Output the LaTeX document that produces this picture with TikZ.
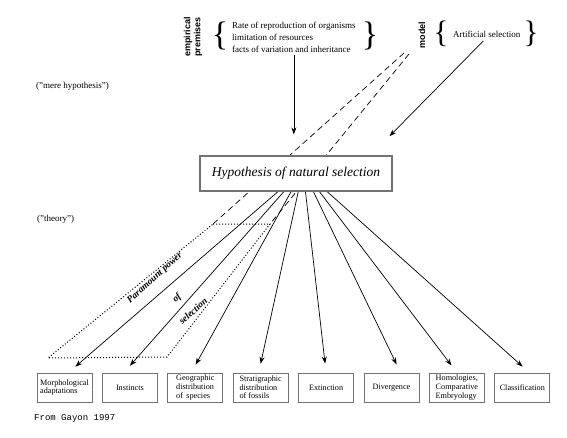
\documentclass[tikz,border=0pt]{standalone}
\usepackage{fontspec}
\setmainfont{Liberation Serif}
\setsansfont{Liberation Sans}
\setmonofont{Liberation Mono}
\usetikzlibrary{arrows.meta,positioning,calc,backgrounds}
\definecolor{boxgray}{gray}{0.45}
\tikzset{
  lbl/.style={font=\fontsize{9}{12}\selectfont, inner sep=0pt, align=left},
  vlbl/.style={font=\sffamily\bfseries\fontsize{9}{10}\selectfont, rotate=90,
               align=center, inner sep=0pt},
  brc/.style={inner sep=0pt, font=\fontsize{34}{34}\selectfont},
  hbox/.style={rectangle, draw=boxgray, line width=1.1pt, minimum width=192pt,
               minimum height=35pt, fill=white,
               font=\itshape\fontsize{13.5}{15}\selectfont},
  bbox/.style={rectangle, draw=boxgray, line width=0.9pt, minimum width=55pt,
               minimum height=29pt, inner sep=1.5pt, align=left,
               font=\fontsize{8.2}{8.6}\selectfont},
  arrow/.style={-{Stealth[length=7pt,width=5pt]}, line width=0.7pt},
  dashline/.style={dash pattern=on 6pt off 4pt, line width=0.7pt},
  dotline/.style={dotted, line width=1pt},
  pwr/.style={font=\bfseries\itshape\fontsize{9.5}{11}\selectfont, rotate=42,
              inner sep=0pt}
}

\begin{document}
\begin{tikzpicture}[x=1pt, y=-1pt, node distance=9.5pt]
  \useasboundingbox (0,0) rectangle (567,437);
  \node[vlbl] (emp) at (193,37) {empirical\\premises};
  \node[brc] (lbr) at (220,36) {\{};
  \node[lbl, anchor=west] (prem) at (232,37)
    {Rate of reproduction of organisms\\limitation of resources\\facts of variation and inheritance};
  \node[brc] (rbr) at (370,36) {\}};
  \node[vlbl] (mdl) at (422,35) {model};
  \node[brc, font=\fontsize{31}{31}\selectfont] (lbr2) at (441,34) {\{};
  \node[lbl, anchor=west] (art) at (453,34) {Artificial selection};
  \node[brc, font=\fontsize{31}{31}\selectfont] (rbr2) at (531,34) {\}};
  \node[lbl, anchor=west] (mere) at (36,86) {("mere hypothesis")};
  \node[lbl, anchor=west] (theory) at (37,219) {("theory")};
  \node[hbox] (hyp) at (296,173.5) {Hypothesis of natural selection};

  \node[bbox] (morph) at (64.5,387.5) {Morphological\\adaptations};
  \node[bbox, right=of morph] (inst) {Instincts};
  \node[bbox, right=of inst] (geo) {Geographic\\distribution\\of\, species};
  \node[bbox, right=of geo] (strat) {Stratigraphic\\distribution\\of fossils};
  \node[bbox, right=of strat] (ext) {Extinction};
  \node[bbox, right=of ext] (div) {Divergence};
  \node[bbox, right=of div] (hom) {Homologies,\\Comparative\\Embryology};
  \node[bbox, right=of hom] (cls) {Classification};
  \node[anchor=west, inner sep=0pt, font=\ttfamily\fontsize{9}{10}\selectfont] (src) at (34,418) {From Gayon 1997};

  \coordinate (m1) at (404,53);
  \coordinate (m2) at (409,54);
  \coordinate (q1) at (213,224);
  \coordinate (q2) at (270,224);
  \coordinate (q3) at (167,357);
  \coordinate (q4) at (48,358);
  \coordinate (fan) at (303,170);

  \draw[dotline] (q1) -- (q2) -- (q3) -- (q4) -- cycle;
  \node[pwr] (pw1) at (155,278) {Paramount power};
  \node[pwr] (pw2) at (177,298) {of};
  \node[pwr] (pw3) at (193,311) {selection};

  \draw[arrow, shorten <=3pt, shorten >=21pt] (prem.south) -- (prem.south |- hyp.north);
  \draw[arrow, shorten <=5pt, shorten >=27pt] (art.south) -- ([xshift=-22pt]hyp.north east);

  \begin{pgfonlayer}{background}
    \draw[dashline] (m1) -- (q1);
    \draw[dashline] (m2) -- (q2);
    \draw[arrow, shorten >=9pt] (fan) -- ([xshift=4pt]morph.north);
    \draw[arrow, shorten >=9pt] (fan) -- ([xshift=-6pt]inst.north);
    \draw[arrow, shorten >=9pt] (fan) -- ([xshift=-4pt]geo.north);
    \draw[arrow, shorten >=9pt] (fan) -- ([xshift=-2pt]strat.north);
    \draw[arrow, shorten >=9pt] (fan) -- (ext.north);
    \draw[arrow, shorten >=9pt] (fan) -- ([xshift=9pt]div.north);
    \draw[arrow, shorten >=9pt] (fan) -- (hom.north);
    \draw[arrow, shorten >=9pt] (fan) -- ([xshift=7pt]cls.north);
  \end{pgfonlayer}
\end{tikzpicture}
\end{document}
